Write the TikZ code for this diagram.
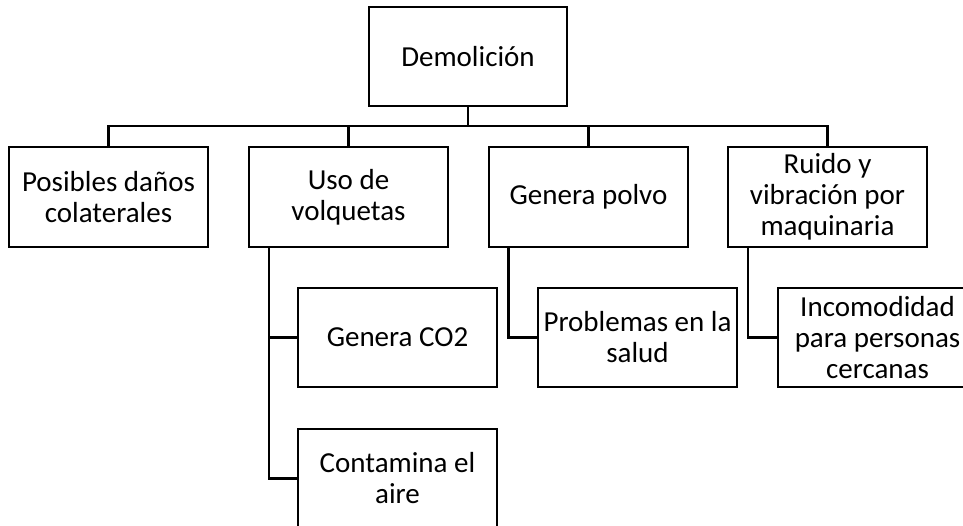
\documentclass[tikz,border=0pt]{standalone}
\usepackage{fontspec}
\setmainfont{Carlito}
\begin{document}
\begin{tikzpicture}[x=1pt, y=1pt, line width=2.6pt,
  box/.style={draw, minimum width=199pt, minimum height=100pt, inner sep=0pt, align=center,
    font=\fontsize{29}{31}\selectfont}]
\useasboundingbox (0,0) rectangle (963,-526);
\clip (0,0) rectangle (963,-526);
\node[box, minimum width=198pt, minimum height=99pt] (demo) at (468, -56.5) {Demolición};
\node[box] (danos) at (108.5, -197) {Posibles daños\\colaterales};
\node[box] (uso) at (348.5, -197) {Uso de\\volquetas};
\node[box] (polvo) at (588.5, -197) {Genera polvo};
\node[box] (ruido) at (827.5, -197) {Ruido y\\vibración por\\maquinaria};
\node[box, minimum height=99pt] (co2) at (397.5, -337.5) {Genera CO2};
\node[box, minimum height=99pt] (aire) at (397.5, -478.5) {Contamina el\\aire};
\node[box, minimum height=99pt] (salud) at (637.5, -337.5) {Problemas en la\\salud};
\node[box, minimum height=99pt] (incom) at (877.5, -337.5) {Incomodidad\\para personas\\cercanas};
\coordinate (bus) at (468, -126);
\draw (demo.south) -- (bus);
\draw (danos.north) |- (bus) -| (ruido.north);
\draw (uso.north) -- (uso.north |- bus);
\draw (polvo.north) -- (polvo.north |- bus);
\coordinate (usoleg) at (269, -247);
\coordinate (polvoleg) at (508.5, -247);
\coordinate (ruidoleg) at (748, -247);
\draw (usoleg) |- (co2.west);
\draw (usoleg) |- (aire.west);
\draw (polvoleg) |- (salud.west);
\draw (ruidoleg) |- (incom.west);
\end{tikzpicture}
\end{document}
